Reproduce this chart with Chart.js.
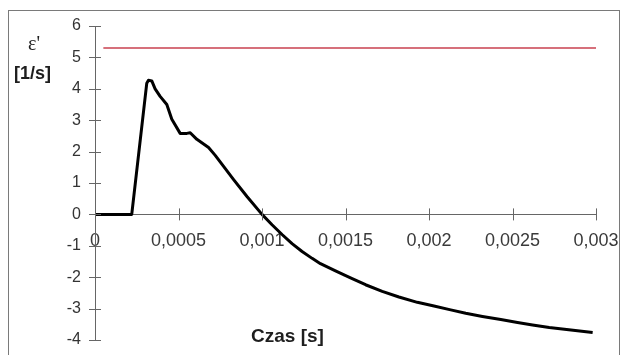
<!DOCTYPE html>
<html>
<head>
<meta charset="utf-8">
<script src="https://cdn.jsdelivr.net/npm/chart.js@4"></script>
<style>
    body { margin: 0; background: #fff; }
    #wrap { position: relative; width: 624px; height: 355px; overflow: hidden; }
    #frame { position: absolute; left: 8px; top: 10px; width: 612px; height: 360px; border: 1.5px solid #7a7a7a; box-sizing: border-box; }
    .lbl { position: absolute; color: #1e1e1e; font-family: "Liberation Sans", Arial, sans-serif; white-space: nowrap; }
    #eps { left: 28px; top: 32px; font-family: "Liberation Serif", "Times New Roman", serif; font-size: 20px; }
    #unit { left: 14px; top: 63px; font-size: 18px; font-weight: bold; }
    #xTitle { left: 251px; top: 325px; font-size: 19px; font-weight: bold; }
    canvas { display: block; }
</style>
</head>
<body>
<div id="wrap">
    <div id="frame"></div>
    <canvas id="strainChart" width="624" height="355"></canvas>
    <div class="lbl" id="eps">ε'</div>
    <div class="lbl" id="unit">[1/s]</div>
    <div class="lbl" id="xTitle">Czas [s]</div>
</div>
<script>
// ----------- Data -----------
// time [s] and strain rate [1/s] of the measured pulse
const czas = [0, 0.0001, 0.00022, 0.00031, 0.00032, 0.00034, 0.00036, 0.00039, 0.00043, 0.00046,
    0.00051, 0.00055, 0.00057, 0.00061, 0.00068, 0.00072, 0.00077, 0.00083, 0.00091, 0.001,
    0.00106, 0.00112, 0.00118, 0.00124, 0.0013, 0.00135, 0.00144, 0.00153, 0.00162, 0.00172,
    0.00182, 0.00193, 0.00203, 0.00213, 0.00222, 0.00232, 0.00243, 0.00253, 0.00262, 0.00272,
    0.00285, 0.00298];
const epsDot = [0, 0, 0, 4.18, 4.27, 4.25, 4.0, 3.76, 3.5, 3.03,
    2.58, 2.58, 2.6, 2.39, 2.13, 1.88, 1.53, 1.11, 0.57, 0,
    -0.33, -0.64, -0.93, -1.18, -1.4, -1.57, -1.8, -2.02, -2.24, -2.45,
    -2.63, -2.8, -2.92, -3.04, -3.15, -3.25, -3.35, -3.44, -3.52, -3.6,
    -3.68, -3.76];

// constant reference level
const poziomCzas = [0.00005, 0.003];
const poziom = [5.3, 5.3];

const xTicks = { min: 0, max: 0.003, step: 0.0005 };
const yTicks = { min: -4, max: 6, step: 1 };

const toPoints = (xs, ys) => xs.map((x, i) => ({ x: x, y: ys[i] }));

// ----------- Cross ticks on both axes -----------
const crossTicks = {
    id: "crossTicks",
    afterDraw(chart) {
        const { ctx, scales: { x, y } } = chart;
        const x0 = x.getPixelForValue(0);
        const y0 = y.getPixelForValue(0);
        ctx.save();
        ctx.strokeStyle = "#666";
        ctx.lineWidth = 1;
        ctx.beginPath();
        x.ticks.forEach(t => {
            const px = Math.round(x.getPixelForValue(t.value)) + 0.5;
            ctx.moveTo(px, y0 - 6);
            ctx.lineTo(px, y0 + 6);
        });
        y.ticks.forEach(t => {
            const py = Math.round(y.getPixelForValue(t.value)) + 0.5;
            ctx.moveTo(x0 - 6, py);
            ctx.lineTo(x0 + 6, py);
        });
        ctx.stroke();
        ctx.restore();
    }
};

// ----------- Chart -----------
new Chart(document.getElementById("strainChart"), {
    type: "line",
    data: {
        datasets: [{
            data: toPoints(poziomCzas, poziom),
            borderColor: "#c9404f",
            borderWidth: 1.5,
            pointRadius: 0
        }, {
            data: toPoints(czas, epsDot),
            borderColor: "#000",
            borderWidth: 3,
            borderJoinStyle: "round",
            pointRadius: 0,
            tension: 0
        }]
    },
    options: {
        responsive: false,
        animation: false,
        layout: { padding: { left: 0, top: 26, right: 28, bottom: 15 } },
        plugins: { legend: { display: false }, tooltip: { enabled: false } },
        scales: {
            x: {
                type: "linear",
                position: { y: 0 },
                min: xTicks.min,
                max: xTicks.max,
                border: { color: "#666", width: 1 },
                grid: { drawOnChartArea: false, drawTicks: false },
                // axis sits inside the plot, so it takes no room of its own
                afterFit: s => {
                    s.height = 0;
                    s.paddingLeft = s.paddingRight = s.paddingTop = s.paddingBottom = 0;
                },
                ticks: {
                    stepSize: xTicks.step,
                    padding: 16,
                    color: "#3a3a3a",
                    font: { family: "Liberation Sans", size: 18 },
                    callback: v => Number(v.toFixed(4)).toString().replace(".", ",")
                }
            },
            y: {
                min: yTicks.min,
                max: yTicks.max,
                border: { color: "#666", width: 1 },
                grid: { drawOnChartArea: false, drawTicks: false },
                afterFit: s => {
                    s.width = 95;
                    s.paddingTop = s.paddingBottom = 0;
                },
                ticks: {
                    stepSize: yTicks.step,
                    padding: 14,
                    color: "#333",
                    font: { family: "Liberation Sans", size: 16 }
                }
            }
        }
    },
    plugins: [crossTicks]
});
</script>
</body>
</html>
